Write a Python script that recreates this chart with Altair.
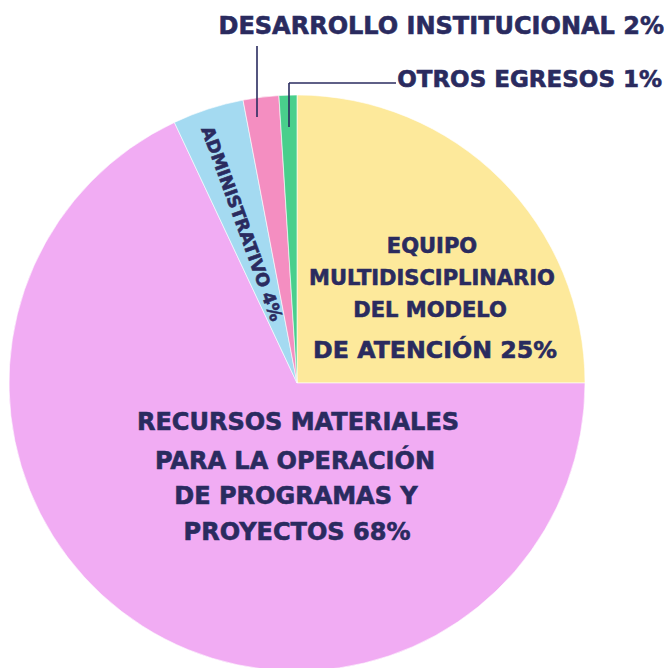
import altair as alt
import pandas as pd

categories = [
    "EQUIPO MULTIDISCIPLINARIO DEL MODELO DE ATENCIÓN",
    "RECURSOS MATERIALES PARA LA OPERACIÓN DE PROGRAMAS Y PROYECTOS",
    "ADMINISTRATIVO",
    "DESARROLLO INSTITUCIONAL",
    "OTROS EGRESOS",
]
values = [25, 68, 4, 2, 1]
colors = ["#FDE99B", "#F1ACF3", "#A4DAF1", "#F48EC1", "#49CF8C"]

df = pd.DataFrame({"categoria": categories, "valor": values, "orden": list(range(len(values)))})

W, H = 656, 660
CX, CY, R = 289, 375, 288
INK = "#2A2B5F"
FONT = "DejaVu Sans"

one = alt.Data(values=[{"a": 1}])

pie = alt.Chart(df).mark_arc(radius=R, stroke="white", strokeWidth=0.6).encode(
    theta=alt.Theta("valor:Q", stack=True),
    order=alt.Order("orden:Q"),
    color=alt.Color("categoria:N", scale=alt.Scale(domain=categories, range=colors), legend=None),
    x=alt.value(CX),
    y=alt.value(CY),
)


def label(txt, x, y, size, angle=0, align="center"):
    return alt.Chart(one).mark_text(
        text=txt, font=FONT, fontWeight="bold", fontSize=size, color=INK,
        stroke=INK, strokeWidth=0.6,
        align=align, baseline="middle", angle=angle,
    ).encode(x=alt.value(x), y=alt.value(y))


def rule(x1, y1, x2, y2):
    return alt.Chart(one).mark_rule(color=INK, strokeWidth=1.6).encode(
        x=alt.value(x1), y=alt.value(y1), x2=alt.value(x2), y2=alt.value(y2)
    )


layers = [
    pie,
    label("EQUIPO", 424, 239, 21),
    label("MULTIDISCIPLINARIO", 424, 271, 21),
    label("DEL MODELO", 422, 303, 21),
    label("DE ATENCIÓN 25%", 427, 343, 23.7),
    label("RECURSOS MATERIALES", 290, 415, 24),
    label("PARA LA OPERACIÓN", 287, 454, 24),
    label("DE PROGRAMAS Y", 288, 489, 24),
    label("PROYECTOS 68%", 289, 525, 24),
    label("ADMINISTRATIVO 4%", 233, 216, 17.5, angle=70),
    label("DESARROLLO INSTITUCIONAL 2%", 656, 19, 24, align="right"),
    label("OTROS EGRESOS 1%", 654, 72, 23, align="right"),
    rule(249, 38, 249, 109),
    rule(281, 75, 388, 75),
    rule(281, 75, 281, 119),
]

chart = alt.layer(*layers).properties(
    width=W, height=H, autosize=alt.AutoSizeParams(type="none"), padding=0
).configure_view(stroke=None, strokeWidth=0)

chart.save("out.html", embed_options={"renderer": "svg", "actions": False})
